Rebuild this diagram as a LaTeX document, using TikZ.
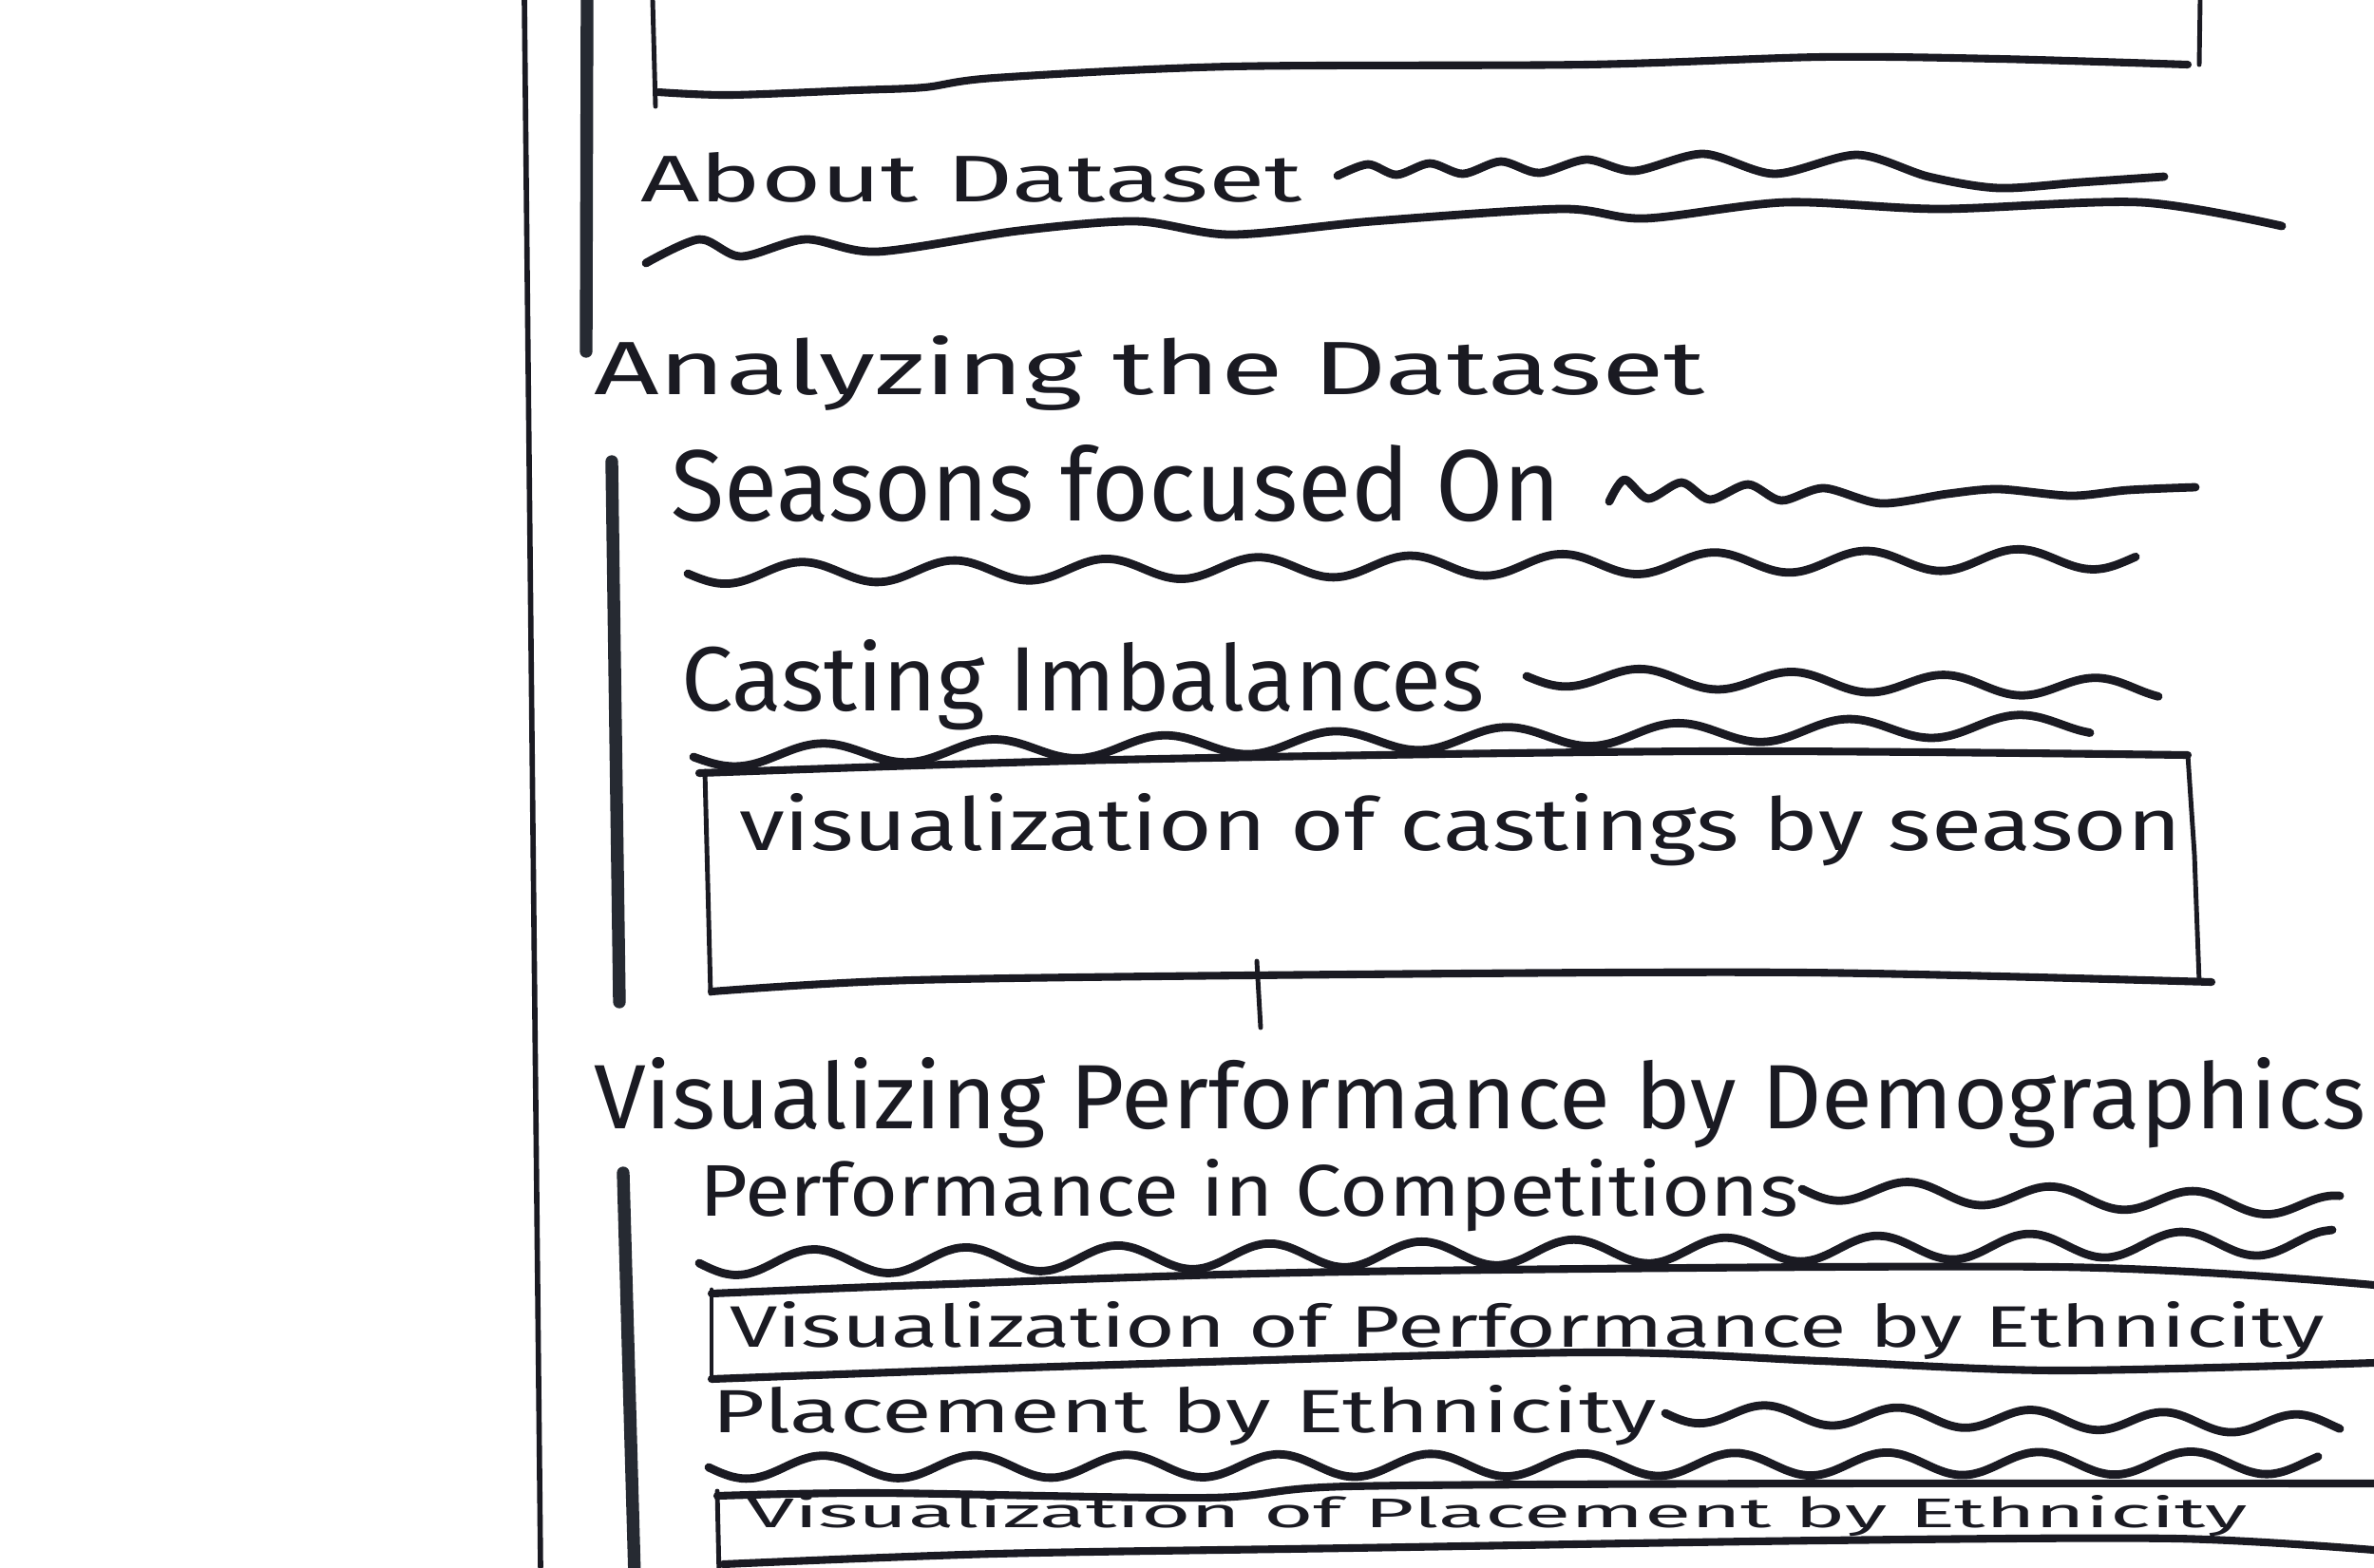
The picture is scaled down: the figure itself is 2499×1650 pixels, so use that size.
\documentclass[tikz,border=0pt]{standalone}
\usepackage{fontspec}
\usepackage{graphicx}
\setmainfont{Fira Sans}
\definecolor{inkc}{HTML}{1A1A22}
\definecolor{barc}{HTML}{262A32}
% text squeezed into a given width and height above the baseline
\newcommand{\fitbox}[3]{\resizebox{#1}{#2}{#3}}
% hand-drawn wavy filler line: x0, x1, y0, y1, amplitude, period
\newcommand{\inkwave}[6]{%
  \draw[wave] plot[smooth, domain=#1:#2, samples=140]
    (\x, {#3+(#4-#3)/(#2-#1)*(\x-#1)+#5*sin((\x-#1)/#6*360)});}
\begin{document}
\begin{tikzpicture}[x=0.01cm, y=-0.01cm,
  edge/.style={draw=inkc, line width=2.3pt, line cap=round, line join=round},
  thinedge/.style={draw=inkc, line width=1.4pt, line cap=round},
  wave/.style={draw=inkc, line width=2.5pt, line cap=round, line join=round},
  bar/.style={draw=barc, line width=3.8pt, line cap=round},
  txt/.style={inner sep=0pt, outer sep=0pt, text=inkc, anchor=base west}]

\useasboundingbox (0,0) rectangle (2499,1650);
\clip (0,0) rectangle (2499,1650);
\fill[white] (0,0) rectangle (2499,1650);

% page margin line and section bars
\draw[thinedge, line width=1.6pt] (552,0) -- (569,1650);
\draw[bar] (618,0) -- (617,370);
\draw[bar] (644,486) -- (652,1055);
\draw[bar] (656,1235) -- (668,1660);

% header box (top part)
\draw[thinedge] (687,0) -- (690,112);
\draw[edge] plot[smooth] coordinates {(693,97) (768,100) (900,95) (973,92) (1047,82) (1296,70) (1669,68) (1917,60) (2104,62) (2303,68)};
\draw[thinedge] (2316,0) -- (2315,68);

% About Dataset
\node[txt] (about) at (674,212) {\fitbox{6.96cm}{0.52cm}{About Dataset}};
\draw[wave] plot[smooth] coordinates {(1408,185) (1440,173) (1470,184) (1505,172) (1540,183) (1580,170) (1620,182) (1670,168) (1720,180) (1793,162) (1868,183) (1955,163) (2030,186) (2104,198) (2190,192) (2278,186)};
\draw[wave] plot[smooth] coordinates {(680,277) (736,252) (780,270) (848,252) (923,265) (1072,243) (1196,233) (1296,247) (1445,233) (1644,220) (1731,230) (1880,213) (2042,220) (2253,213) (2402,238)};

% Analyzing the Dataset
\node[txt] (analyze) at (625,415) {\fitbox{11.69cm}{0.62cm}{Analyzing the Dataset}};

\node[txt] (seasons) at (706,548) {\fitbox{9.36cm}{0.8cm}{Seasons focused On}};
\draw[wave] plot[smooth] coordinates {(1694,528) (1710,505) (1735,525) (1770,508) (1800,526) (1840,510) (1875,527) (1920,514) (1980,530) (2050,520) (2104,515) (2180,522) (2240,516) (2311,513)};
\inkwave{724}{2248}{604}{588}{11}{160}

\node[txt] (casting) at (717,748) {\fitbox{8.45cm}{0.75cm}{Casting Imbalances}};
\inkwave{1607}{2272}{712}{725}{10}{160}
\inkwave{730}{2200}{797}{762}{11}{180}

% chart placeholder: castings by season
\draw[edge] plot[smooth] coordinates {(736,814) (1172,800) (1793,791) (2303,795)};
\draw[thinedge] (742,812) -- (748,1046);
\draw[edge] plot[smooth] coordinates {(749,1044) (960,1032) (1420,1026) (1900,1024) (2328,1034)};
\draw[thinedge] (2303,795) -- (2310,900) -- (2315,1034);
\node[txt] (castviz) at (778,895) {\fitbox{15.17cm}{0.6cm}{visualization of castings by season}};
\draw[thinedge] (1323,1012) -- (1327,1082);

% Visualizing Performance by Demographics
\node[txt] (perfdemo) at (625,1188) {\fitbox{18.64cm}{0.75cm}{Visualizing Performance by Demographics}};

\node[txt] (perfcomp) at (736,1280) {\fitbox{11.56cm}{0.6cm}{Performance in Competitions}};
\inkwave{1897}{2463}{1252}{1270}{11}{150}
\inkwave{736}{2455}{1330}{1308}{13}{160}

% chart placeholder: performance by ethnicity
\draw[edge] plot[smooth] coordinates {(749,1362) (1000,1352) (1420,1339) (2166,1334) (2499,1353)};
\draw[thinedge] (749,1358) -- (749,1452);
\draw[edge] plot[smooth] coordinates {(749,1452) (1172,1437) (1669,1424) (1917,1433) (2166,1443) (2499,1435)};
\node[txt] (perfviz) at (768,1418) {\fitbox{16.78cm}{0.48cm}{Visualization of Performance by Ethnicity}};

\node[txt] (place) at (749,1508) {\fitbox{9.94cm}{0.5cm}{Placement by Ethnicity}};
\inkwave{1753}{2463}{1488}{1500}{10}{140}
\inkwave{746}{2440}{1545}{1540}{12}{160}

% chart placeholder: placement by ethnicity
\draw[edge] plot[smooth] coordinates {(755,1575) (923,1572) (1271,1577) (1420,1565) (1917,1562) (2499,1562)};
\draw[thinedge] (755,1570) -- (757,1660);
\draw[edge] plot[smooth] coordinates {(761,1647) (1047,1636) (1420,1630) (1917,1622) (2290,1620) (2499,1632)};
\node[txt] (placeviz) at (786,1608) {\fitbox{15.79cm}{0.34cm}{Visualization of Placement by Ethnicity}};

\end{tikzpicture}
\end{document}
